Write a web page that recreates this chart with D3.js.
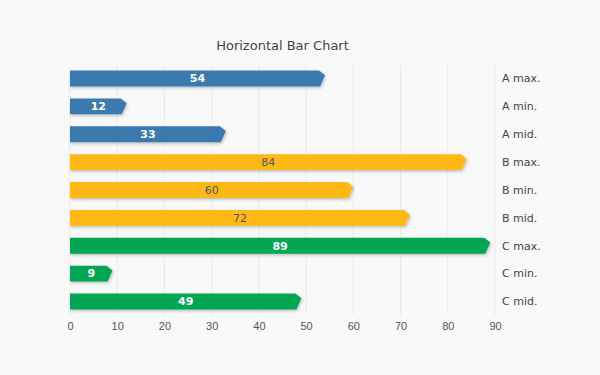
<!DOCTYPE html>
<html>
<head>
<meta charset="utf-8">
<script src="https://cdn.jsdelivr.net/npm/d3@7"></script>
<style>
    body { margin: 0; background: #f9f9f9; }
    svg { font-family: "DejaVu Sans", sans-serif; }
    .grid line { stroke: #ebebeb; }
    .axis text { fill: #555; font-size: 11px; }
    .cat { fill: #444; font-size: 11px; }
    .title { fill: #444; font-size: 13px; }
</style>
</head>
<body>
<svg id="chart" width="600" height="375"></svg>
<script>
    // chart data
    const categories = ['A max.', 'A min.', 'A mid.', 'B max.', 'B min.', 'B mid.', 'C max.', 'C min.', 'C mid.'];
    const values = [54, 12, 33, 84, 60, 72, 89, 9, 49];
    const groups = ['A', 'A', 'A', 'B', 'B', 'B', 'C', 'C', 'C'];
    const xTicks = [0, 10, 20, 30, 40, 50, 60, 70, 80, 90];

    const colors = { A: '#3a7aae', B: '#feb913', C: '#00a651' };
    const labelColors = { A: '#fff', B: '#555', C: '#fff' };

    const margin = {top: 65, right: 105, bottom: 60, left: 70};
    const width = 600 - margin.left - margin.right;
    const height = 375 - margin.top - margin.bottom;

    const svg = d3.select('#chart');

    const defs = svg.append('defs');
    defs.append('filter').attr('id', 'shadow')
        .attr('x', '-10%').attr('y', '-30%').attr('width', '120%').attr('height', '180%')
        .append('feDropShadow')
        .attr('dx', 1).attr('dy', 1.5).attr('stdDeviation', 1.5)
        .attr('flood-color', '#000').attr('flood-opacity', 0.25);

    svg.append('text').attr('class', 'title')
        .attr('x', margin.left + width / 2).attr('y', 50)
        .attr('text-anchor', 'middle')
        .text('Horizontal Bar Chart');

    const chart = svg.append('g').attr('transform', 'translate(' + margin.left + ',' + margin.top + ')');

    const x = d3.scaleLinear().domain([0, 90]).range([0, width]);
    const y = d3.scaleBand().domain(categories).range([0, height]).paddingInner(0.43).paddingOuter(0.2);

    // grid
    chart.append('g').attr('class', 'grid')
        .selectAll('line').data(xTicks).join('line')
        .attr('x1', d => x(d)).attr('x2', d => x(d))
        .attr('y1', 0).attr('y2', height);

    // x axis
    const xAxis = chart.append('g').attr('class', 'axis')
        .attr('transform', 'translate(0,' + (height + 1) + ')')
        .call(d3.axisBottom(x).tickValues(xTicks).tickSize(0).tickPadding(6));
    xAxis.select('.domain').remove();
    xAxis.selectAll('text').attr('font-family', null).attr('font-size', null);

    const data = categories.map((c, i) => ({cat: c, value: values[i], group: groups[i]}));

    // arrow-shaped bars
    const tip = 6;
    chart.append('g').selectAll('path').data(data).join('path')
        .attr('fill', d => colors[d.group])
        .attr('filter', 'url(#shadow)')
        .attr('d', d => {
            const x1 = x(d.value), y0 = y(d.cat), bh = y.bandwidth();
            return 'M0,' + y0 + 'H' + (x1 - tip) + 'L' + x1 + ',' + (y0 + bh * 0.3) +
                'L' + (x1 - tip + 1) + ',' + (y0 + bh) + 'H0Z';
        });

    chart.append('g').selectAll('text').data(data).join('text')
        .attr('x', d => x(d.value) / 2)
        .attr('y', d => y(d.cat) + y.bandwidth() / 2)
        .attr('dy', '0.35em')
        .attr('text-anchor', 'middle')
        .attr('font-size', '11px')
        .attr('font-weight', d => d.group === 'B' ? 'normal' : 'bold')
        .attr('fill', d => labelColors[d.group])
        .text(d => d.value);

    chart.append('g').selectAll('text').data(data).join('text')
        .attr('class', 'cat')
        .attr('x', width + 7)
        .attr('y', d => y(d.cat) + y.bandwidth() / 2)
        .attr('dy', '0.35em')
        .text(d => d.cat);
</script>
</body>
</html>
